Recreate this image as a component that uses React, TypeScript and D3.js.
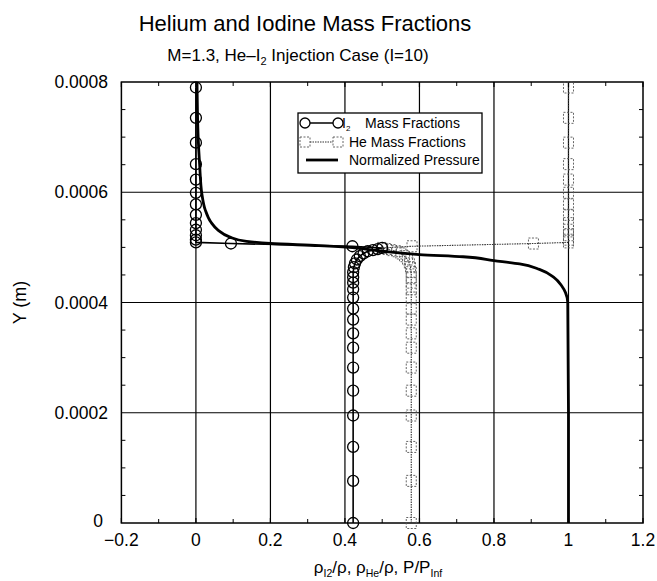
import React from "react";
import * as d3 from "d3";

// ---------- data ----------
const xTickValues = [-0.2, 0, 0.2, 0.4, 0.6, 0.8, 1, 1.2];
const xTickLabels = ["\u22120.2", "0", "0.2", "0.4", "0.6", "0.8", "1", "1.2"];
const yTickValues = [0, 0.0002, 0.0004, 0.0006, 0.0008];
const yTickLabels = ["0", "0.0002", "0.0004", "0.0006", "0.0008"];

// I2 / He sample heights (m), bottom to top
const sampleY = [
  0, 0.0000764, 0.000138, 0.000195, 0.00024, 0.000282, 0.000318, 0.000344,
  0.000369, 0.000389, 0.000409, 0.000424, 0.000436, 0.000446, 0.000455,
  0.000464, 0.000471, 0.000478, 0.000484, 0.000489, 0.000493, 0.000495,
  0.000497, 0.000499, 0.000502, 0.000507, 0.000509, 0.000514, 0.000522,
  0.000532, 0.000544, 0.000559, 0.000578, 0.000599, 0.000623, 0.000651,
  0.00069, 0.000735, 0.00079,
];
const i2Fraction = [
  0.422, 0.422, 0.422, 0.422, 0.422, 0.422, 0.422, 0.422, 0.422, 0.422,
  0.422, 0.422, 0.422, 0.422, 0.422, 0.424, 0.427, 0.432, 0.44, 0.45,
  0.461, 0.475, 0.488, 0.5, 0.42, 0.094, 0, 0, 0, 0, 0, 0, 0, 0, 0, 0, 0, 0, 0,
];
const heFraction = [
  0.578, 0.578, 0.578, 0.578, 0.578, 0.578, 0.578, 0.578, 0.578, 0.578,
  0.578, 0.578, 0.578, 0.578, 0.578, 0.576, 0.573, 0.568, 0.56, 0.55,
  0.539, 0.525, 0.512, 0.5, 0.58, 0.906, 1, 1, 1, 1, 1, 1, 1, 1, 1, 1, 1, 1, 1,
];

// Normalized pressure curve
const pressureY = [
  0, 0.0002, 0.0004, 0.000418, 0.00043, 0.000446, 0.00046, 0.00047, 0.000476,
  0.000483, 0.000487, 0.000493, 0.0004995, 0.000503, 0.000507, 0.000511,
  0.000519, 0.000531, 0.000546, 0.000568, 0.000597, 0.00065, 0.0007, 0.00075,
  0.0008,
];
const pressureX = [
  1, 1, 0.998, 0.992, 0.982, 0.96, 0.922, 0.869, 0.8, 0.717, 0.6, 0.5, 0.42,
  0.33, 0.2, 0.136, 0.09, 0.06, 0.04, 0.025, 0.016, 0.01, 0.006, 0.004, 0.003,
];

// ---------- layout ----------
const W = 657;
const H = 581;
const L = 121.4;
const R = 643;
const T = 82;
const B = 523;
const FONT = "'Liberation Sans', Arial, Helvetica, sans-serif";

export default function App() {
  const x = d3.scaleLinear().domain([-0.2, 1.2]).range([L, R]);
  const y = d3.scaleLinear().domain([0, 0.0008]).range([B, T]);

  const minorX = d3.range(-0.1, 1.2, 0.2);
  const minorY = d3.range(0.00005, 0.0008, 0.00005).filter(
    (v) => Math.abs(v / 0.0002 - Math.round(v / 0.0002)) > 0.01
  );

  const i2Pts: [number, number][] = sampleY.map((v, i) => [i2Fraction[i], v]);
  const hePts: [number, number][] = sampleY.map((v, i) => [heFraction[i], v]);
  const pPts: [number, number][] = pressureY.map((v, i) => [pressureX[i], v]);

  const lin = d3
    .line<[number, number]>()
    .x((d) => x(d[0]))
    .y((d) => y(d[1]));
  const smooth = d3
    .line<[number, number]>()
    .x((d) => x(d[0]))
    .y((d) => y(d[1]))
    .curve(d3.curveMonotoneY);

  const tickLen = 5;
  const minorLen = 4;

  return (
    <svg
      width={W}
      height={H}
      style={{ position: "absolute", left: 0, top: 0, display: "block", background: "#fff" }}
      fontFamily={FONT}
    >
      <rect x={0} y={0} width={W} height={H} fill="#fff" />
      {/* titles */}
      <text x={305} y={31} textAnchor="middle" fontSize={22} fill="#000">
        Helium and Iodine Mass Fractions
      </text>
      <text x={298} y={61} textAnchor="middle" fontSize={17} fill="#000">
        M=1.3, He–I
        <tspan fontSize={11} dy={4}>2</tspan>
        <tspan dy={-4}> Injection Case (I=10)</tspan>
      </text>

      {/* grid */}
      {xTickValues.slice(1, -1).map((v) => (
        <line key={"gx" + v} x1={x(v)} x2={x(v)} y1={T} y2={B} stroke="#000" strokeWidth={1.2} />
      ))}
      {yTickValues.slice(1, -1).map((v) => (
        <line key={"gy" + v} x1={L} x2={R} y1={y(v)} y2={y(v)} stroke="#000" strokeWidth={1.2} />
      ))}
      {/* minor ticks */}
      {minorX.map((v) => (
        <g key={"mx" + v}>
          <line x1={x(v)} x2={x(v)} y1={B} y2={B - minorLen} stroke="#000" strokeWidth={1} />
          <line x1={x(v)} x2={x(v)} y1={T} y2={T + minorLen} stroke="#000" strokeWidth={1} />
        </g>
      ))}
      {minorY.map((v) => (
        <g key={"my" + v}>
          <line x1={L} x2={L + minorLen} y1={y(v)} y2={y(v)} stroke="#000" strokeWidth={1} />
          <line x1={R} x2={R - minorLen} y1={y(v)} y2={y(v)} stroke="#000" strokeWidth={1} />
        </g>
      ))}
      {xTickValues.map((v) => (
        <g key={"tx" + v}>
          <line x1={x(v)} x2={x(v)} y1={B} y2={B - tickLen} stroke="#000" strokeWidth={1.2} />
          <line x1={x(v)} x2={x(v)} y1={T} y2={T + tickLen} stroke="#000" strokeWidth={1.2} />
        </g>
      ))}
      {/* frame */}
      <rect x={L} y={T} width={R - L} height={B - T} fill="none" stroke="#000" strokeWidth={1.5} />

      {/* tick labels */}
      {xTickValues.map((v, i) => (
        <text
          key={"xl" + v}
          x={x(v)}
          y={546}
          textAnchor="middle"
          fontSize={17.5}
          fill="#000"
        >
          {xTickLabels[i]}
        </text>
      ))}
      {yTickValues.map((v, i) => (
        <text
          key={"yl" + v}
          x={i === 0 ? 103 : 108}
          y={y(v) + (i === 0 ? 4 : 6)}
          textAnchor="end"
          fontSize={17.5}
          fill="#000"
        >
          {yTickLabels[i]}
        </text>
      ))}

      {/* axis titles */}
      <text x={378} y={573} textAnchor="middle" fontSize={17} fill="#000">
        ρ<tspan fontSize={10.5} dy={4}>I2</tspan>
        <tspan dy={-4}>/ρ, ρ</tspan>
        <tspan fontSize={10.5} dy={4}>He</tspan>
        <tspan dy={-4}>/ρ, P/P</tspan>
        <tspan fontSize={10.5} dy={4}>Inf</tspan>
      </text>
      <text
        transform={`translate(26, ${(T + B) / 2}) rotate(-90)`}
        textAnchor="middle"
        fontSize={18}
        fill="#000"
      >
        Y (m)
      </text>

      {/* He series */}
      <path d={lin(hePts) || ""} fill="none" stroke="#333" strokeWidth={1.1} strokeDasharray="1.5,1" />
      {hePts.map((d, i) => (
        <rect
          key={"he" + i}
          x={x(d[0]) - 5}
          y={y(d[1]) - 5.5}
          width={10}
          height={11}
          fill="none"
          stroke="#555"
          strokeWidth={0.9}
          strokeDasharray="2,1.5"
        />
      ))}

      {/* pressure */}
      <path d={smooth(pPts) || ""} fill="none" stroke="#000" strokeWidth={2.8} />

      {/* I2 series */}
      <path d={lin(i2Pts) || ""} fill="none" stroke="#000" strokeWidth={1.6} />
      {i2Pts.map((d, i) => (
        <circle key={"i2" + i} cx={x(d[0])} cy={y(d[1])} r={5.5} fill="none" stroke="#000" strokeWidth={1.3} />
      ))}

      {/* legend */}
      <rect x={298} y={113} width={184} height={60} fill="#fff" stroke="#000" strokeWidth={1.3} />
      <line x1={305} x2={338} y1={123} y2={123} stroke="#000" strokeWidth={1.6} />
      <circle cx={305} cy={123} r={5} fill="#fff" stroke="#000" strokeWidth={1.3} />
      <circle cx={338} cy={123} r={5} fill="#fff" stroke="#000" strokeWidth={1.3} />
      <text x={342} y={128} fontSize={14} fill="#000">
        I<tspan fontSize={8} dy={3}>2</tspan>
      </text>
      <text x={365} y={128} fontSize={14} fill="#000">Mass Fractions</text>

      <line x1={305} x2={338} y1={142} y2={142} stroke="#333" strokeWidth={1.1} strokeDasharray="1.5,1" />
      <rect x={300} y={137} width={10} height={10} fill="#fff" stroke="#555" strokeWidth={0.9} strokeDasharray="2,1.5" />
      <rect x={333} y={137} width={10} height={10} fill="#fff" stroke="#555" strokeWidth={0.9} strokeDasharray="2,1.5" />
      <text x={349} y={147} fontSize={14} fill="#000">He Mass Fractions</text>

      <line x1={306} x2={338} y1={160} y2={160} stroke="#000" strokeWidth={2.8} />
      <text x={349} y={165} fontSize={14} fill="#000">Normalized Pressure</text>
    </svg>
  );
}
